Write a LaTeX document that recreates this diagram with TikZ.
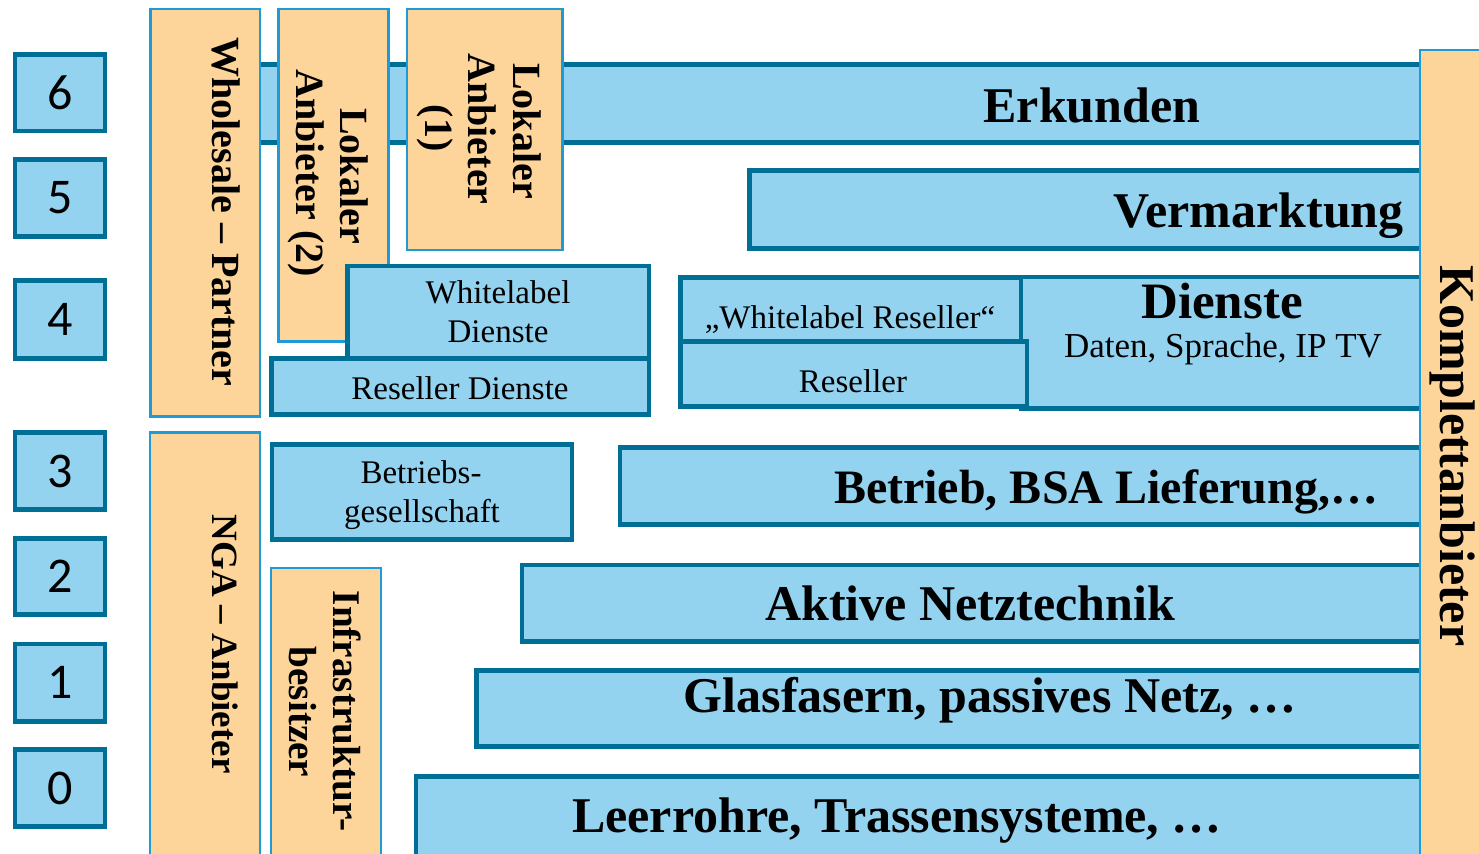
\documentclass[tikz,border=0pt]{standalone}
\usepackage{fontspec}
\setmainfont{Liberation Serif}
\newfontfamily\digitfont{Carlito}
\usetikzlibrary{fit}
\definecolor{barfill}{HTML}{94D3F0}
\definecolor{bardraw}{HTML}{006F96}
\definecolor{orfill}{HTML}{FDD59A}
\definecolor{ordraw}{HTML}{1E9AD6}
\tikzset{
  bar/.style={draw=bardraw, fill=barfill, line width=2.4pt, inner sep=0pt},
  org/.style={draw=ordraw, fill=orfill, line width=1.2pt, inner sep=0pt},
  digit/.style={font=\digitfont\fontsize{25}{30}\selectfont, inner sep=0pt, anchor=center},
  bigb/.style={font=\fontsize{25}{30}\selectfont\bfseries, anchor=base, inner sep=0pt},
  rotb/.style={font=\fontsize{20}{24}\selectfont\bfseries, rotate=-90, anchor=base, inner sep=0pt},
  reg/.style={font=\fontsize{16.5}{20}\selectfont, anchor=base, inner sep=0pt}
}
\begin{document}
\begin{tikzpicture}[x=0.5pt,y=-0.5pt]
\useasboundingbox (0,0) rectangle (1479,853);
\clip (0,0) rectangle (1479,853);
\fill[white] (0,0) rectangle (1479,853);

% top bar, partly hidden
\node[bar, fit={(240,64.5) (1422,142.5)}] (erk) {};
% orange provider boxes (top)
\node[org, fit={(150.5,9) (260,416.5)}] (whole) {};
\node[org, fit={(278.5,9) (388.5,341.5)}] (lok2) {};
\node[org, fit={(407,9) (562.5,250)}] (lok1) {};

% bars
\node[bar, fit={(749.5,170.5) (1422,248.5)}] (ver) {};
\node[bar, fit={(1021,277) (1422,408.5)}] (dien) {};
\node[bar, fit={(680.5,277.5) (1021,341.5)}] (wlr) {};
\node[bar, fit={(680.5,341.5) (1027,406.5)}] (res) {};
\node[bar, fit={(347.5,266) (649,358.5)}] (wld) {};
\node[bar, fit={(271.5,358.5) (649,414.5)}] (rsd) {};
\node[bar, fit={(272,444.5) (572,539.5)}] (betg) {};
\node[bar, fit={(620,447.5) (1422,524.5)}] (betr) {};
\node[bar, fit={(522,565) (1422,641.5)}] (akt) {};
\node[bar, fit={(476.5,670.5) (1422,746.5)}] (glas) {};
\node[bar, fit={(416,776.5) (1422,880)}] (leer) {};

% orange provider boxes (bottom / right)
\node[org, fit={(150,432.5) (260,880)}] (nga) {};
\node[org, fit={(271,568) (381,880)}] (infra) {};
\node[org, fit={(1420,50) (1495,880)}] (kompl) {};

% level numbers
\node[bar, fit={(15,54.5) (105,131)}] (n6) {};
\node[bar, fit={(15,159.5) (105,236.5)}] (n5) {};
\node[bar, fit={(15,280.5) (105,358.5)}] (n4) {};
\node[bar, fit={(15,432.5) (105,509.5)}] (n3) {};
\node[bar, fit={(15,538.5) (105,614.5)}] (n2) {};
\node[bar, fit={(15,644) (105,721.5)}] (n1) {};
\node[bar, fit={(15,749.5) (105,826.5)}] (n0) {};
\node[digit] (d6) at (n6.center) {6};
\node[digit] (d5) at (n5.center) {5};
\node[digit] (d4) at (n4.center) {4};
\node[digit] (d3) at (n3.center) {3};
\node[digit] (d2) at (n2.center) {2};
\node[digit] (d1) at (n1.center) {1};
\node[digit] (d0) at (n0.center) {0};

% bar texts
\node[bigb] (t-erk) at (1092,122) {Erkunden};
\node[bigb, anchor=base east] (t-ver) at (1404,227) {Vermarktung};
\node[bigb, font=\fontsize{25.5}{30}\selectfont\bfseries] (t-dien) at (1222,318) {Dienste};
\node[reg, font=\fontsize{17.5}{21}\selectfont] (t-daten) at (1223,357) {Daten, Sprache, IP TV};
\node[reg] (t-wlr) at (850,328) {„Whitelabel Reseller“};
\node[reg] (t-res) at (853,392) {Reseller};
\node[reg] (t-wld1) at (498,303) {Whitelabel};
\node[reg] (t-wld2) at (498,342) {Dienste};
\node[reg] (t-rsd) at (460,399) {Reseller Dienste};
\node[reg] (t-betg1) at (421,483) {Betriebs-};
\node[reg] (t-betg2) at (422,522) {gesellschaft};
\node[bigb, font=\fontsize{24}{29}\selectfont\bfseries] (t-betr) at (1106,503) {Betrieb, BSA Lieferung,…};
\node[bigb] (t-akt) at (970,620) {Aktive Netztechnik};
\node[bigb] (t-glas) at (990,712) {Glasfasern, passives Netz, …};
\node[bigb] (t-leer) at (897,832) {Leerrohre, Trassensysteme, …};

% rotated provider texts
\node[rotb] (t-whole) at (212,212) {Wholesale – Partner};
\node[rotb] (t-lok2a) at (340,176) {Lokaler};
\node[rotb] (t-lok2b) at (296,173) {Anbieter (2)};
\node[rotb] (t-lok1a) at (513,131) {Lokaler};
\node[rotb] (t-lok1b) at (468,129) {Anbieter};
\node[rotb] (t-lok1c) at (425,128) {(1)};
\node[rotb, font=\fontsize{18.5}{22}\selectfont\bfseries] (t-nga) at (212,644) {NGA – Anbieter};
\node[rotb, font=\fontsize{19.6}{24}\selectfont\bfseries] (t-infra1) at (333,711) {Infrastruktur-};
\node[rotb, font=\fontsize{19.6}{24}\selectfont\bfseries] (t-infra2) at (289,712) {besitzer};
\node[rotb, font=\fontsize{25}{30}\selectfont\bfseries] (t-kompl) at (1440,456) {Komplettanbieter};
\end{tikzpicture}
\end{document}
